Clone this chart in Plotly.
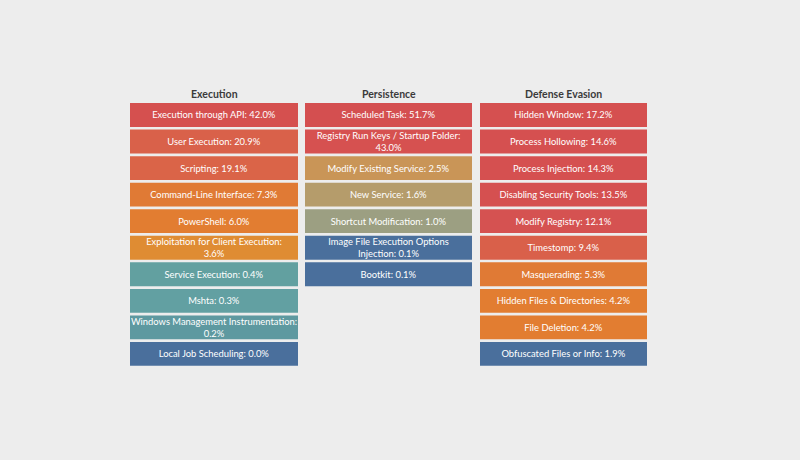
import plotly.graph_objects as go

# ---- data ----
tactics = ["Execution", "Persistence", "Defense Evasion"]

exec_names = ["Execution through API", "User Execution", "Scripting", "Command-Line Interface",
              "PowerShell", "Exploitation for Client Execution", "Service Execution", "Mshta",
              "Windows Management Instrumentation", "Local Job Scheduling"]
exec_values = [42.0, 20.9, 19.1, 7.3, 6.0, 3.6, 0.4, 0.3, 0.2, 0.0]
exec_colors = ["#d5504f", "#d9614a", "#da6448", "#e07a35", "#e27d31", "#df8c33",
               "#62a0a0", "#62a0a2", "#5e99a0", "#4a6f9c"]

pers_names = ["Scheduled Task", "Registry Run Keys / Startup Folder", "Modify Existing Service",
              "New Service", "Shortcut Modification", "Image File Execution Options Injection",
              "Bootkit"]
pers_values = [51.7, 43.0, 2.5, 1.6, 1.0, 0.1, 0.1]
pers_colors = ["#d44f50", "#d65150", "#c99557", "#b59c6b", "#9c9f82", "#4a6f9c", "#4a6f9c"]

def_names = ["Hidden Window", "Process Hollowing", "Process Injection", "Disabling Security Tools",
             "Modify Registry", "Timestomp", "Masquerading", "Hidden Files & Directories",
             "File Deletion", "Obfuscated Files or Info"]
def_values = [17.2, 14.6, 14.3, 13.5, 12.1, 9.4, 5.3, 4.2, 4.2, 1.9]
def_colors = ["#d55050", "#d55050", "#d55050", "#d55050", "#d55251", "#d9604a",
              "#e07a35", "#e27d31", "#e27d31", "#4a6f9c"]

TILE = 1  # every tile spans the full column width
MAX_ROWS = 10


def wrap(s, limit=36):
    if len(s) <= limit:
        return s
    cut = s.rfind(" ", 0, limit + 1)
    return s[:cut] + "<br>" + s[cut + 1:]


groups = [(exec_names, exec_values, exec_colors),
          (pers_names, pers_values, pers_colors),
          (def_names, def_values, def_colors)]

col_px = [(130, 298), (305, 472), (480, 647)]
W, H = 800, 460
row_top_px, pitch = 101.7, 26.55
y_top = 1 - row_top_px / H
y_bot = 1 - (row_top_px + pitch * MAX_ROWS) / H

fig = go.Figure()
layout = {}
for i, ((names, vals, cols), (x0, x1)) in enumerate(zip(groups, col_px)):
    sfx = "" if i == 0 else str(i + 1)
    texts = [wrap(f"{n}: {v:.1f}%") for n, v in zip(names, vals)]
    fig.add_trace(go.Bar(
        y=list(range(len(names))), x=[TILE] * len(names), orientation="h",
        marker=dict(color=cols, line=dict(width=0)),
        text=texts, textposition="inside", insidetextanchor="middle",
        constraintext="none",
        textangle=0, textfont=dict(color="white", size=9.4, family="Lato"),
        hoverinfo="skip", xaxis="x" + sfx, yaxis="y" + sfx, showlegend=False,
    ))
    layout["xaxis" + sfx] = dict(domain=[x0 / W, x1 / W], range=[0, TILE], visible=False,
                                 fixedrange=True, anchor="y" + sfx)
    layout["yaxis" + sfx] = dict(domain=[y_bot, y_top], range=[MAX_ROWS - 0.5, -0.5],
                                 visible=False, fixedrange=True, anchor="x" + sfx)

annotations = [dict(text=f"<b>{t}</b>", x=(x0 + x1) / 2 / W, y=1 - 94 / H, xref="paper",
                    yref="paper", showarrow=False, xanchor="center", yanchor="middle",
                    font=dict(size=10.5, color="#3b3b3b", family="Lato"))
               for t, (x0, x1) in zip(tactics, col_px)]

fig.update_layout(
    width=W, height=H, margin=dict(l=0, r=0, t=0, b=0),
    paper_bgcolor="#ededed", plot_bgcolor="rgba(0,0,0,0)",
    bargap=0.1, annotations=annotations,
    **layout,
)

fig.write_html("out.html", config={"displayModeBar": False},
               post_script="document.body.style.margin='0';")
